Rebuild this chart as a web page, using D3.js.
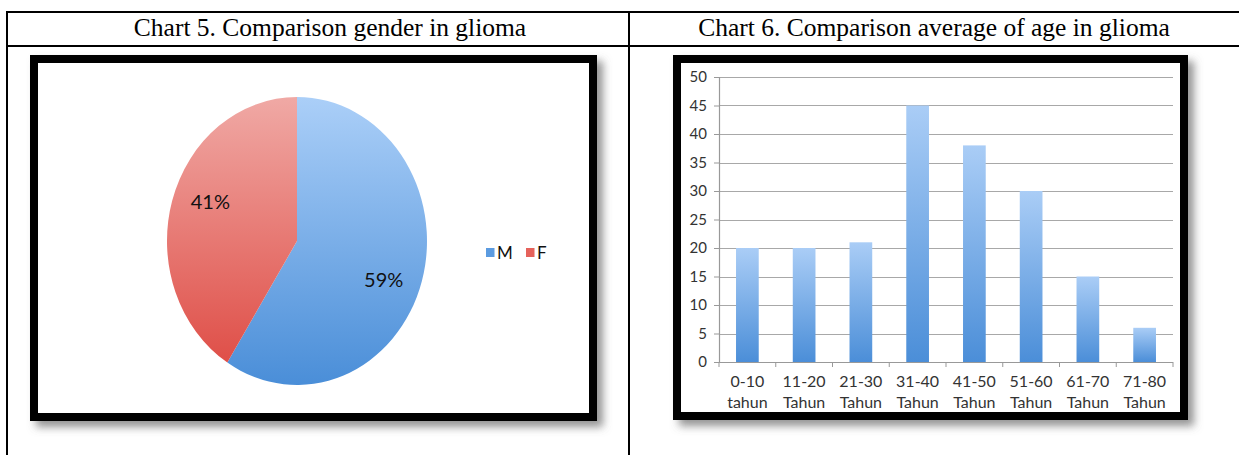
<!DOCTYPE html>
<html>
<head>
<meta charset="utf-8">
<script src="https://cdn.jsdelivr.net/npm/d3@7"></script>
<style>
  html, body { margin: 0; padding: 0; background: #fff; }
  svg { display: block; }
</style>
</head>
<body>
<svg id="chart" width="1239" height="455"></svg>
<script>
// ---- data ----
const titles = ["Chart 5. Comparison gender in glioma", "Chart 6. Comparison average of age in glioma"];
const genderLabels = ["M", "F"];
const genderValues = [59, 41];
const ageRanges = ["0-10", "11-20", "21-30", "31-40", "41-50", "51-60", "61-70", "71-80"];
const ageUnits = ["tahun", "Tahun", "Tahun", "Tahun", "Tahun", "Tahun", "Tahun", "Tahun"];
const ageValues = [20, 20, 21, 45, 38, 30, 15, 6];
const yTicks = [0, 5, 10, 15, 20, 25, 30, 35, 40, 45, 50];

const svg = d3.select("#chart");
const defs = svg.append("defs");
const chartFont = "Lato, 'Open Sans', sans-serif";

// gradients
function vgrad(id, top, bottom) {
  const g = defs.append("linearGradient").attr("id", id)
    .attr("x1", 0).attr("y1", 0).attr("x2", 0).attr("y2", 1);
  g.append("stop").attr("offset", "0%").attr("stop-color", top);
  g.append("stop").attr("offset", "100%").attr("stop-color", bottom);
}
vgrad("gBlue", "#abcff8", "#4a8ed8");
vgrad("gRed", "#f0a9a5", "#df4f48");
vgrad("gBar", "#aacdf6", "#4b8ed8");

const shadow = defs.append("filter").attr("id", "shadow")
  .attr("x", "-10%").attr("y", "-10%").attr("width", "125%").attr("height", "125%");
shadow.append("feDropShadow").attr("dx", 6).attr("dy", 6).attr("stdDeviation", 4)
  .attr("flood-color", "#666").attr("flood-opacity", 0.7);

// ---- table ----
const table = svg.append("g");
table.append("line").attr("x1", 6).attr("x2", 1239).attr("y1", 12).attr("y2", 12).attr("stroke", "#000").attr("stroke-width", 2);
table.append("line").attr("x1", 6).attr("x2", 1239).attr("y1", 46).attr("y2", 46).attr("stroke", "#000").attr("stroke-width", 2);
table.append("line").attr("x1", 7).attr("x2", 7).attr("y1", 11).attr("y2", 455).attr("stroke", "#000").attr("stroke-width", 2);
table.append("line").attr("x1", 629).attr("x2", 629).attr("y1", 11).attr("y2", 455).attr("stroke", "#000").attr("stroke-width", 2);
table.selectAll("text.title").data(titles).join("text")
  .attr("class", "title")
  .attr("x", (d, i) => i === 0 ? 330 : 934)
  .attr("y", 36)
  .attr("text-anchor", "middle")
  .attr("font-family", "'Liberation Serif', 'Times New Roman', serif")
  .attr("font-size", 25.5)
  .attr("fill", "#000")
  .text(d => d);

// ---- frames ----
function frame(x0, y0, x1, y1) {
  svg.append("rect").attr("x", x0 + 4).attr("y", y0 + 4)
    .attr("width", x1 - x0 - 8).attr("height", y1 - y0 - 8)
    .attr("fill", "#fff").attr("stroke", "#000").attr("stroke-width", 8)
    .attr("filter", "url(#shadow)");
}
frame(30, 55, 597, 421);
frame(673, 55, 1188, 420);

// ---- pie (chart 5) ----
const cx = 297, cy = 241, rx = 130, ry = 144;
const pie = d3.pie().sort(null).value(d => d)(genderValues);
const arc = d3.arc().innerRadius(0).outerRadius(rx);
const labelArc = d3.arc().innerRadius(rx * 0.72).outerRadius(rx * 0.72);
const labelTurn = 6 * Math.PI / 180;
const pieColor = d3.scaleOrdinal().domain(genderLabels).range(["url(#gBlue)", "url(#gRed)"]);
const legendColor = d3.scaleOrdinal().domain(genderLabels).range(["#5b9be0", "#e5625b"]);

const pg = svg.append("g").attr("transform", `translate(${cx},${cy}) scale(1,${ry / rx})`);
pg.selectAll("path").data(pie).join("path")
  .attr("d", arc)
  .attr("fill", (d, i) => pieColor(genderLabels[i]));

const lc = d => labelArc.centroid({ startAngle: d.startAngle + labelTurn, endAngle: d.endAngle + labelTurn });
svg.append("g").attr("transform", `translate(${cx},${cy})`)
  .selectAll("text").data(pie).join("text")
  .attr("x", d => lc(d)[0])
  .attr("y", d => lc(d)[1] * ry / rx)
  .attr("text-anchor", "middle")
  .attr("dy", "0.35em")
  .attr("font-family", chartFont)
  .attr("font-size", 20)
  .attr("fill", "#111")
  .text(d => d.value + "%");

// legend
const legend = svg.append("g").attr("transform", "translate(486,248)");
const legX = d3.scalePoint().domain(genderLabels).range([0, 40]);
const li = legend.selectAll("g").data(genderLabels).join("g")
  .attr("transform", d => `translate(${legX(d)},0)`);
li.append("rect").attr("width", 8.5).attr("height", 9).attr("fill", d => legendColor(d));
li.append("text").attr("x", 11).attr("y", 10.5)
  .attr("font-family", chartFont).attr("font-size", 17).attr("fill", "#111")
  .text(d => d);

// ---- bar chart (chart 6) ----
const m = { left: 719, right: 1173, top: 77, bottom: 362 };
const x = d3.scaleBand().domain(ageRanges).range([m.left, m.right]).paddingInner(0).paddingOuter(0);
const y = d3.scaleLinear().domain([0, 50]).range([m.bottom, m.top]);

const bg = svg.append("g");
// gridlines
bg.append("g").selectAll("line").data(yTicks.filter(t => t > 0)).join("line")
  .attr("x1", m.left).attr("x2", m.right)
  .attr("y1", d => Math.round(y(d)) + 0.5).attr("y2", d => Math.round(y(d)) + 0.5)
  .attr("stroke", "#a8a8a8").attr("stroke-width", 1.2);

// bars
const barW = x.bandwidth() * 0.4;
bg.append("g").selectAll("rect").data(ageValues).join("rect")
  .attr("x", (d, i) => x(ageRanges[i]) + (x.bandwidth() - barW) / 2)
  .attr("y", d => y(d))
  .attr("width", barW)
  .attr("height", d => y(0) - y(d))
  .attr("fill", "url(#gBar)");

// y axis
const yAxis = d3.axisLeft(y).tickValues(yTicks).tickSize(5).tickPadding(7);
const ya = bg.append("g").attr("transform", `translate(${m.left},0)`).call(yAxis);
ya.select(".domain").attr("stroke", "#999").attr("stroke-width", 1.2);
ya.selectAll(".tick line").attr("stroke", "#999");
ya.selectAll(".tick text").attr("font-family", chartFont).attr("font-size", 15).attr("fill", "#333");

// x axis
const xa = bg.append("g").attr("transform", `translate(0,${m.bottom})`);
xa.append("line").attr("x1", m.left).attr("x2", m.right).attr("y1", 0.5).attr("y2", 0.5)
  .attr("stroke", "#999").attr("stroke-width", 1.2);
const bounds = ageRanges.map(d => x(d)).concat([m.right]);
xa.selectAll("line.tk").data(bounds).join("line").attr("class", "tk")
  .attr("x1", d => d).attr("x2", d => d).attr("y1", 0).attr("y2", 5)
  .attr("stroke", "#999");
const xl = xa.selectAll("text").data(ageRanges).join("text")
  .attr("text-anchor", "middle")
  .attr("x", d => x(d) + x.bandwidth() / 2)
  .attr("font-family", chartFont).attr("font-size", 16).attr("fill", "#333");
xl.append("tspan").attr("x", d => x(d) + x.bandwidth() / 2).attr("y", 25).text(d => d);
xl.append("tspan").attr("x", d => x(d) + x.bandwidth() / 2).attr("y", 46).text((d, i) => ageUnits[i]);
</script>
</body>
</html>
